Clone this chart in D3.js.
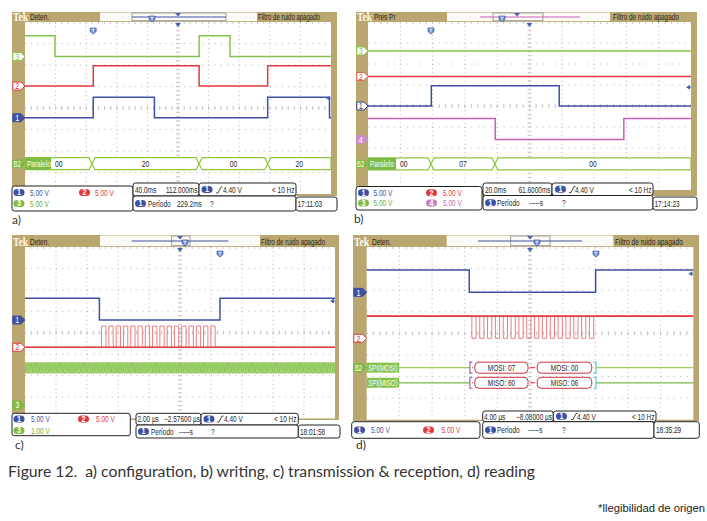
<!DOCTYPE html>
<html><head><meta charset="utf-8">
<script src="https://cdn.jsdelivr.net/npm/d3@7/dist/d3.min.js"></script>
<style>html,body{margin:0;padding:0;background:#fff;overflow:hidden}svg{display:block}</style>
</head><body><script>
// ===== DATA (graticule divisions: x 0..10 left->right, y -4..+4 bottom->top) =====
// a) configuration
const aCh3Edges = [0.98, 5.69, 6.70], aCh3Levels = [3.36, 2.39, 3.36, 2.39];
const aCh2Edges = [2.23, 5.69, 7.93], aCh2Levels = [1.02, 1.97, 1.02, 1.97];
const aCh1Edges = [2.23, 4.23, 7.93, 9.95], aCh1Levels = [-0.45, 0.50, -0.45, 0.50, -0.45];
const aBusEdges = [2.19, 5.69, 7.93], aBusValues = ["00", "20", "00", "20"];
const aBusLevel = -2.59;
const aGround = [-0.45, 1.02, 2.39];          // ch1, ch2, ch3 markers
// b) writing
const bCh3Levels = [2.62];
const bCh2Levels = [1.41];
const bCh1Edges = [1.96, 5.92], bCh1Levels = [0, 0.97, 0];
const bCh4Edges = [3.94, 7.92], bCh4Levels = [-0.59, -1.60, -0.59];
const bBusEdges = [1.95, 3.93], bBusValues = ["00", "07", "00"];
const bBusLevel = -2.76;
const bGround = [0, 1.41, 2.62, -1.60];       // ch1, ch2, ch3, ch4
// c) transmission & reception
const cCh1Edges = [2.40, 6.29], cCh1Levels = [1.61, 0.59, 1.61];
const cCh2Levels = [-0.68, 0.31];             // idle, pulse top
const cCh2Pulses = [2.47, 2.705, 2.94, 3.175, 3.41, 3.645, 3.88, 4.115, 4.35, 4.585, 4.82, 5.055, 5.29, 5.525, 5.76, 5.995];
const cPulseWidth = 0.14;
const cCh3Band = [-1.38, -1.90];
const cGround = [0.59, -0.68, -3.38];
// d) reading
const dCh1Edges = [3.14, 7.01], dCh1Levels = [2.93, 1.90, 2.93];
const dCh2Levels = [0.80, -0.23];             // idle, pulse bottom
const dCh2Dips = [3.22, 3.46, 3.70, 3.94, 4.18, 4.42, 4.66, 4.90, 5.14, 5.38, 5.62, 5.86, 6.10, 6.34, 6.58, 6.82];
const dDipWidth = 0.13;
const dSpiLevels = [-1.59, -2.29];            // MOSI, MISO
const dMosiValues = ["07", "00"], dMisoValues = ["80", "06"];
const dPackets = [[3.31, 4.94], [5.22, 6.89]];
const dFrame = [3.16, 7.02];
const dGround = [1.90, -0.23];
// triggers
const trigPos = [2.23, 1.95, 6.29, 7.02];
const trigLevel = [0.45, 0.89, 1.48, 2.76];

// ===== STYLE =====
const BLUE = "#3e50a2", RED = "#e23b3f", GREEN = "#8dc63f", MAGENTA = "#c461b7", OLIVE = "#baa770", GRID = "#a9a9a9", INK = "#1f1f1f";

const svg = d3.select("body").append("svg").attr("width", 707).attr("height", 521);
const defs = svg.append("defs");
const pat = defs.append("pattern").attr("id", "noise").attr("width", 2.4).attr("height", 12).attr("patternUnits", "userSpaceOnUse");
pat.append("rect").attr("width", 2.4).attr("height", 12).attr("fill", "#acd87a");
pat.append("path").attr("d", "M0,0L1.2,12L2.4,0").attr("stroke", "#7bb846").attr("stroke-width", 0.6).attr("fill", "none");

function stext(g, x, y, str, o = {}) {
  return g.append("text").attr("transform", `translate(${x},${y}) scale(${o.sx ?? 0.72},1)`)
    .attr("font-family", o.ff || "'Liberation Sans',Arial,sans-serif").attr("font-size", o.size || 9)
    .attr("font-weight", o.fw || "normal").attr("fill", o.color || INK).attr("text-anchor", o.anchor || "start")
    .style("white-space", "pre").text(str);
}
function fitText(g, x, y, str, w, o = {}) {
  const t = stext(g, x, y, str, Object.assign({}, o, { sx: 1 }));
  const len = t.node().getComputedTextLength();
  t.attr("transform", `translate(${x},${y}) scale(${w / len},1)`);
  return t;
}
function tPin(g, cx, y0) {
  g.append("path").attr("d", `M${cx - 3},${y0}H${cx + 3}V${y0 + 3.5}L${cx},${y0 + 6}L${cx - 3},${y0 + 3.5}Z`)
    .attr("fill", "#6a8fd4").attr("stroke", "#2d4b8f").attr("stroke-width", 0.6);
  g.append("path").attr("d", `M${cx - 1.6},${y0 + 1.2}H${cx + 1.6}M${cx},${y0 + 1.2}V${y0 + 4.6}`).attr("stroke", "#fff").attr("stroke-width", 0.8);
}

function panel(L) {
  const g = svg.append("g");
  const [fx0, fy0, fx1, fy1] = L.frame, [px0, py0, px1, py1] = L.plot;
  g.append("rect").attr("x", fx0).attr("y", fy0).attr("width", fx1 - fx0).attr("height", fy1 - fy0).attr("fill", OLIVE);
  g.append("rect").attr("x", px0).attr("y", py0).attr("width", px1 - px0).attr("height", py1 - py0).attr("fill", "#fff");
  const x = d3.scaleLinear().domain([0, 10]).range([px0, px1]);
  const y = d3.scaleLinear().domain([-4, 4]).range([py1, py0]);
  const dx = (px1 - px0) / 10, dy = (py1 - py0) / 8;
  const grid = g.append("g").attr("stroke", GRID).attr("stroke-width", 0.9);
  d3.range(1, 10).forEach(i => grid.append("line").attr("x1", x(i)).attr("x2", x(i)).attr("y1", py0).attr("y2", py1).attr("stroke-dasharray", `0.9 ${dy / 5 - 0.9}`));
  d3.range(-3, 4).forEach(j => grid.append("line").attr("y1", y(j)).attr("y2", y(j)).attr("x1", px0).attr("x2", px1).attr("stroke-dasharray", `0.9 ${dx / 5 - 0.9}`));
  const ticks = g.append("g").attr("stroke", "#bdbdbd").attr("stroke-width", 0.8);
  d3.range(0, 51).forEach(k => {
    const xx = px0 + k * dx / 5;
    ticks.append("line").attr("x1", xx).attr("x2", xx).attr("y1", y(0) - 2).attr("y2", y(0) + 2);
    ticks.append("line").attr("x1", xx).attr("x2", xx).attr("y1", py0).attr("y2", py0 + 2);
  });
  d3.range(0, 41).forEach(k => {
    const yy = py0 + k * dy / 5;
    ticks.append("line").attr("y1", yy).attr("y2", yy).attr("x1", x(5) - 2).attr("x2", x(5) + 2);
  });
  // header
  const H = L.hdr, [hy0, hy1] = H.y, hm = (hy0 + hy1) / 2;
  g.append("rect").attr("x", H.white[0]).attr("y", hy0 + 0.5).attr("width", H.white[1] - H.white[0]).attr("height", hy1 - hy0 - 1.3).attr("fill", "#fbfaf4");
  g.append("rect").attr("x", H.bracket[0]).attr("y", hy0 + 1).attr("width", H.bracket[1] - H.bracket[0]).attr("height", hy1 - hy0 - 2.3)
    .attr("fill", "none").attr("stroke", "#8a8a8a").attr("stroke-width", 0.8);
  g.append("line").attr("x1", H.line[0]).attr("x2", H.line[1]).attr("y1", hm).attr("y2", hm).attr("stroke", H.lc).attr("stroke-width", 1.1);
  g.append("path").attr("d", `M${H.tri - 3},${hy0 + 1}H${H.tri + 3}L${H.tri},${hy0 + 4.5}Z`).attr("fill", "#4a63b0");
  tPin(g, H.tmark, hm - 1);
  stext(g, H.tek, hy1 - 1.3, "Tek", { ff: "'Liberation Serif',serif", fw: "bold", size: 12, sx: 0.8, color: "#fffaf0" });
  stext(g, H.modeX, hy1 - 2, H.mode, { size: 9, sx: 0.72 });
  fitText(g, H.filtro[0], hy1 - 2, "Filtro de ruido apagado", H.filtro[1] - H.filtro[0], { size: 9 });
  // horizontal position arrow
  g.append("path").attr("d", `M${x(5) - 3},${py0 + 1}H${x(5) + 3}L${x(5)},${py0 + 5}Z`).attr("fill", "#4a63b0");
  return { g, x, y, L };
}

const line = P => d3.line().x(d => P.x(d[0])).y(d => P.y(d[1])).curve(d3.curveStepAfter);
function stepTrace(P, edges, levels, color, w = 1.5) {
  const pts = levels.map((l, i) => [i ? edges[i - 1] : 0, l]);
  pts.push([10, levels[levels.length - 1]]);
  P.g.append("path").attr("d", line(P)(pts)).attr("fill", "none").attr("stroke", color).attr("stroke-width", w);
}
function pulseTrace(P, levels, starts, width, color) {
  const [base, peak] = levels;
  const pts = [[0, base]];
  starts.forEach(s => { pts.push([s, peak]); pts.push([s + width, base]); });
  pts.push([10, base]);
  P.g.append("path").attr("d", line(P)(pts)).attr("fill", "none").attr("stroke", "#ea6f73").attr("stroke-width", 0.9);
  stepTrace(P, [], [base], color, 1.6);
}
function chMarker(P, level, color, label, filled) {
  const x0 = P.L.frame[0] + 0.8, x1 = P.L.plot[0], yc = P.y(level), h = 4;
  P.g.append("path").attr("d", `M${x0},${yc - h}H${x1 - 4}L${x1},${yc}L${x1 - 4},${yc + h}H${x0}Z`)
    .attr("fill", filled ? color : "#fff").attr("stroke", color).attr("stroke-width", 1);
  stext(P.g, (x0 + x1 - 4) / 2 + 0.3, yc + 3.2, label, { color: filled ? "#fff" : color, anchor: "middle", size: 9, sx: label.length > 1 ? 0.65 : 0.8 });
}
function trigArrow(P, level) {
  const xr = P.L.plot[2], yc = P.y(level);
  P.g.append("path").attr("d", `M${xr - 5},${yc}L${xr - 1},${yc - 2.5}V${yc + 2.5}Z`).attr("fill", "#4a63b0");
  P.g.append("line").attr("x1", xr - 3).attr("x2", xr).attr("y1", yc).attr("y2", yc).attr("stroke", "#4a63b0").attr("stroke-width", 1);
}
function bus(P, level, edges, values, labelW) {
  const yc = P.y(level), h = 6, k = 3;
  const b = [0, ...edges, 10];
  values.forEach((v, i) => {
    const a = P.x(b[i]), e = P.x(b[i + 1]);
    const ka = i === 0 ? 0 : k, kb = i === values.length - 1 ? 0 : k;
    P.g.append("path").attr("d", `M${a},${yc}L${a + ka},${yc - h}H${e - kb}L${e},${yc}L${e - kb},${yc + h}H${a + ka}Z`)
      .attr("fill", "#fff").attr("stroke", GREEN).attr("stroke-width", 1.2);
  });
  const x0 = P.x(0);
  P.g.append("rect").attr("x", x0).attr("y", yc - h).attr("width", labelW).attr("height", 2 * h).attr("fill", "#7dbb45");
  stext(P.g, x0 + 2, yc + 3.3, "Paralelo", { color: "#fff", size: 9, sx: 0.72 });
  values.forEach((v, i) => {
    if (i === 0) stext(P.g, x0 + labelW + 4, yc + 3.3, v, { size: 9, sx: 0.75 });
    else stext(P.g, (P.x(b[i]) + P.x(b[i + 1])) / 2, yc + 3.3, v, { size: 9, sx: 0.75, anchor: "middle" });
  });
}
function spi(P, level, label, prefix, values, lineColor) {
  const yc = P.y(level), lw = 32.3, xa = P.x(dFrame[0]), xb = P.x(dFrame[1]);
  P.g.append("line").attr("x1", P.x(0)).attr("x2", xa).attr("y1", yc).attr("y2", yc).attr("stroke", lineColor).attr("stroke-width", 1.2);
  P.g.append("line").attr("x1", xb).attr("x2", P.x(10)).attr("y1", yc).attr("y2", yc).attr("stroke", lineColor).attr("stroke-width", 1.2);
  P.g.append("rect").attr("x", P.x(0)).attr("y", yc - 5).attr("width", lw).attr("height", 10).attr("fill", "#86c24a");
  fitText(P.g, P.x(0) + 1.5, yc + 3.2, label, lw - 3, { color: "#fff", size: 9 });
  P.g.append("path").attr("d", `M${xa + 2.5},${yc - 5.5}H${xa}V${yc + 5.5}H${xa + 2.5}`).attr("fill", "none").attr("stroke", "#8e58a8").attr("stroke-width", 1.1);
  P.g.append("path").attr("d", `M${xb - 2.5},${yc - 5.5}H${xb}V${yc + 5.5}H${xb - 2.5}`).attr("fill", "none").attr("stroke", "#55c3de").attr("stroke-width", 1.1);
  const stops = [dFrame[0], ...dPackets.flat(), dFrame[1]];
  for (let i = 0; i < stops.length; i += 2)
    P.g.append("line").attr("x1", P.x(stops[i]) + 2).attr("x2", P.x(stops[i + 1]) - 2).attr("y1", yc).attr("y2", yc).attr("stroke", "#c9343c").attr("stroke-width", 1);
  dPackets.forEach((p, i) => {
    P.g.append("rect").attr("x", P.x(p[0])).attr("y", yc - 5.5).attr("width", P.x(p[1]) - P.x(p[0])).attr("height", 11).attr("rx", 4)
      .attr("fill", "#fff").attr("stroke", "#c9343c").attr("stroke-width", 1);
    stext(P.g, (P.x(p[0]) + P.x(p[1])) / 2, yc + 3.2, `${prefix}: ${values[i]}`, { size: 9, sx: 0.72, anchor: "middle" });
  });
}
function trigIcon(g, x, y) {
  g.append("path").attr("d", `M${x},${y}H${x + 2}L${x + 5},${y - 6}H${x + 6.5}`).attr("fill", "none").attr("stroke", INK).attr("stroke-width", 0.8);
}
function badge(g, x, yc, color, label) {
  g.append("rect").attr("x", x).attr("y", yc - 3.5).attr("width", 11).attr("height", 7).attr("rx", 3.5).attr("fill", color);
  stext(g, x + 5.5, yc + 2.9, label, { color: "#fff", size: 8.5, sx: 0.85, anchor: "middle", fw: "bold" });
}
function boxes(P, list) {
  list.forEach(b => {
    P.g.append("rect").attr("x", b.r[0]).attr("y", b.r[1]).attr("width", b.r[2] - b.r[0]).attr("height", b.r[3] - b.r[1]).attr("rx", 2.5)
      .attr("fill", "#fff").attr("stroke", "#222").attr("stroke-width", 1);
    b.items.forEach(it => {
      if (it.b) badge(P.g, it.x, it.y, it.c, it.b);
      else if (it.icon) trigIcon(P.g, it.x, it.y);
      else stext(P.g, it.x, it.y, it.t, { color: it.c || INK, anchor: it.a || "start", sx: 0.72 });
    });
  });
}

// ===== PANEL a =====
const PA = panel({ frame: [12, 12, 337, 196], plot: [25, 22, 331, 194],
  hdr: { y: [12, 22], white: [100, 257], line: [132, 226], bracket: [132, 226], tri: 178, tmark: 152, lc: BLUE, tek: 13, mode: "Deten.", modeX: 30, filtro: [258, 320] } });
stepTrace(PA, aCh3Edges, aCh3Levels, "#86c34b");
stepTrace(PA, aCh2Edges, aCh2Levels, RED);
stepTrace(PA, aCh1Edges, aCh1Levels, BLUE);
bus(PA, aBusLevel, aBusEdges, aBusValues, 26);
tPin(PA.g, PA.x(trigPos[0]), 28);
trigArrow(PA, trigLevel[0]);
chMarker(PA, aGround[2], GREEN, "3", false);
chMarker(PA, aGround[1], RED, "2", false);
chMarker(PA, aGround[0], BLUE, "1", true);
chMarker(PA, aBusLevel, "#7dbb45", "B2", true);
boxes(PA, [
  { r: [12, 186, 133, 211], items: [{ b: "1", c: BLUE, x: 13.5, y: 192.5 }, { t: "5.00 V", c: BLUE, x: 30, y: 195.5 }, { b: "2", c: RED, x: 79, y: 192.5 }, { t: "5.00 V", c: RED, x: 95, y: 195.5 },
    { b: "3", c: "#7dbb45", x: 13.5, y: 203.5 }, { t: "5.00 V", c: "#6aad3a", x: 30, y: 206.5 }] },
  { r: [133, 183, 199, 196], items: [{ t: "40.0ms", x: 135, y: 193 }, { t: "112.000ms", x: 197.5, y: 193, a: "end" }] },
  { r: [199, 183, 296, 196], items: [{ b: "1", c: BLUE, x: 201.5, y: 189.5 }, { icon: 1, x: 216, y: 193 }, { t: "4.40 V", x: 223, y: 193 }, { t: "< 10 Hz", x: 294.5, y: 193, a: "end" }] },
  { r: [133, 196, 296, 211], items: [{ b: "1", c: BLUE, x: 135, y: 203.5 }, { t: "Período", x: 148, y: 207 }, { t: "229.2ms", x: 177, y: 207 }, { t: "?", x: 210, y: 207 }] },
  { r: [296, 197, 337, 211], items: [{ t: "17:11:03", x: 297.5, y: 207 }] }]);

// ===== PANEL b =====
const PB = panel({ frame: [356, 12, 697, 196], plot: [368, 22, 691, 190],
  hdr: { y: [12, 22], white: [447, 610], line: [480, 580], bracket: [493, 543], tri: 517, tmark: 502, lc: MAGENTA, tek: 357, mode: "Pres Pr", modeX: 374, filtro: [613, 679] } });
stepTrace(PB, [], bCh3Levels, "#86c34b");
stepTrace(PB, [], bCh2Levels, RED);
stepTrace(PB, bCh1Edges, bCh1Levels, BLUE);
stepTrace(PB, bCh4Edges, bCh4Levels, MAGENTA);
bus(PB, bBusLevel, bBusEdges, bBusValues, 28);
tPin(PB.g, PB.x(trigPos[1]), 28);
trigArrow(PB, trigLevel[1]);
chMarker(PB, bGround[2], GREEN, "3", false);
chMarker(PB, bGround[1], "#e4573a", "2", false);
chMarker(PB, bGround[0], "#34407a", "1", false);
chMarker(PB, bGround[3], "#d08ccc", "4", true);
chMarker(PB, bBusLevel, "#7dbb45", "B2", true);
boxes(PB, [
  { r: [356, 186.5, 482, 210], items: [{ b: "1", c: BLUE, x: 358, y: 192.7 }, { t: "5.00 V", c: BLUE, x: 373.5, y: 195.7 }, { b: "2", c: RED, x: 426, y: 192.7 }, { t: "5.00 V", c: RED, x: 443, y: 195.7 },
    { b: "3", c: "#7dbb45", x: 358, y: 203 }, { t: "5.00 V", c: "#6aad3a", x: 373.5, y: 206 }, { b: "4", c: "#c77fc2", x: 426, y: 203 }, { t: "5.00 V", c: "#b96db4", x: 443, y: 206 }] },
  { r: [483, 183, 552, 195.5], items: [{ t: "20.0ms", x: 485, y: 192.5 }, { t: "61.6000ms", x: 550.5, y: 192.5, a: "end" }] },
  { r: [552, 183, 653, 195.5], items: [{ b: "1", c: BLUE, x: 555, y: 189.3 }, { icon: 1, x: 569, y: 192.5 }, { t: "4.40 V", x: 575, y: 192.5 }, { t: "< 10 Hz", x: 651.5, y: 192.5, a: "end" }] },
  { r: [483, 195.5, 653, 210], items: [{ b: "1", c: BLUE, x: 485, y: 202.7 }, { t: "Período", x: 497, y: 206 }, { t: "-----s", x: 529, y: 206 }, { t: "?", x: 562, y: 206 }] },
  { r: [653, 197, 697, 210], items: [{ t: "17:14:23", x: 654.5, y: 206.5 }] }]);

// ===== PANEL c =====
const PC = panel({ frame: [12, 235, 339, 420], plot: [25, 247, 335, 418.4],
  hdr: { y: [235, 247], white: [100, 260], line: [131.7, 228.3], bracket: [171.7, 190], tri: 180, tmark: 185, lc: BLUE, tek: 13, mode: "Deten.", modeX: 30, filtro: [261, 325] } });
PC.g.append("path").attr("d", d3.area().x(d => PC.x(d)).y0(PC.y(cCh3Band[1])).y1(PC.y(cCh3Band[0]))([0, 10])).attr("fill", "url(#noise)");
stepTrace(PC, cCh1Edges, cCh1Levels, BLUE);
pulseTrace(PC, cCh2Levels, cCh2Pulses, cPulseWidth, RED);
tPin(PC.g, PC.x(trigPos[2]), 251);
trigArrow(PC, trigLevel[2]);
chMarker(PC, cGround[0], BLUE, "1", true);
chMarker(PC, cGround[1], RED, "2", false);
chMarker(PC, cGround[2], "#7dbb45", "3", true);
boxes(PC, [
  { r: [12, 413.3, 130.3, 435.7], items: [{ b: "1", c: BLUE, x: 13.5, y: 419 }, { t: "5.00 V", c: BLUE, x: 31, y: 422 }, { b: "2", c: RED, x: 78, y: 419 }, { t: "5.00 V", c: RED, x: 96, y: 422 },
    { b: "3", c: "#7dbb45", x: 13.5, y: 430.5 }, { t: "1.00 V", c: "#6aad3a", x: 31, y: 433.5 }] },
  { r: [136, 413.3, 201, 425], items: [{ t: "2.00 µs", x: 137.5, y: 422 }, { t: "−2.57600 µs", x: 200, y: 422, a: "end" }] },
  { r: [201, 413.3, 298.3, 425], items: [{ b: "1", c: BLUE, x: 203.5, y: 419 }, { icon: 1, x: 217, y: 422 }, { t: "4.40 V", x: 224, y: 422 }, { t: "< 10 Hz", x: 296.5, y: 422, a: "end" }] },
  { r: [136, 425, 298.3, 438], items: [{ b: "1", c: BLUE, x: 138, y: 431.5 }, { t: "Período", x: 151, y: 434.5 }, { t: "-----s", x: 179, y: 434.5 }, { t: "?", x: 211, y: 434.5 }] },
  { r: [298.3, 425, 340, 438], items: [{ t: "18:01:58", x: 300, y: 434.5 }] }]);

// ===== PANEL d =====
const PD = panel({ frame: [353, 235, 699, 421], plot: [366.7, 247, 693.3, 419.7],
  hdr: { y: [235, 247], white: [446.7, 613.3], line: [478, 582], bracket: [510.7, 550], tri: 530, tmark: 537, lc: BLUE, tek: 354, mode: "Deten.", modeX: 372, filtro: [615, 683] } });
stepTrace(PD, dCh1Edges, dCh1Levels, BLUE);
pulseTrace(PD, dCh2Levels, dCh2Dips, dDipWidth, RED);
spi(PD, dSpiLevels[0], "SPI(MOSI)", "MOSI", dMosiValues, "#9bd05a");
spi(PD, dSpiLevels[1], "SPI(MISO)", "MISO", dMisoValues, "#7cb94a");
tPin(PD.g, PD.x(trigPos[3]), 251);
trigArrow(PD, trigLevel[3]);
chMarker(PD, dGround[0], BLUE, "1", true);
chMarker(PD, dGround[1], RED, "2", false);
chMarker(PD, dSpiLevels[0], "#7dbb45", "B2", true);
boxes(PD, [
  { r: [482.7, 411, 553.3, 421.7], items: [{ t: "4.00 µs", x: 484, y: 419.5 }, { t: "−8.08000 µs", x: 552, y: 419.5, a: "end" }] },
  { r: [553.3, 411, 656, 421.7], items: [{ b: "1", c: BLUE, x: 556, y: 416.3 }, { icon: 1, x: 571, y: 419.5 }, { t: "4.40 V", x: 577, y: 419.5 }, { t: "< 10 Hz", x: 654.5, y: 419.5, a: "end" }] },
  { r: [351.7, 421.7, 480, 438.3], items: [{ b: "1", c: BLUE, x: 354, y: 430 }, { t: "5.00 V", c: BLUE, x: 371, y: 433 }, { b: "2", c: RED, x: 423, y: 430 }, { t: "5.00 V", c: RED, x: 441.5, y: 433 }] },
  { r: [482.7, 421.7, 654, 438.3], items: [{ b: "1", c: BLUE, x: 485, y: 430 }, { t: "Período", x: 497, y: 433 }, { t: "-----s", x: 528.5, y: 433 }, { t: "?", x: 562, y: 433 }] },
  { r: [654, 421.7, 699.3, 438.3], items: [{ t: "18:35:29", x: 656, y: 433 }] }]);

// ===== LABELS & CAPTION =====
const lab = { ff: "Lato,'Open Sans',sans-serif", size: 12, sx: 1, color: "#333" };
stext(svg, 12, 224, "a)", lab);
stext(svg, 354, 223, "b)", lab);
stext(svg, 15, 449, "c)", lab);
stext(svg, 356, 449, "d)", lab);
svg.append("text").attr("x", 8).attr("y", 476.5).attr("font-family", "Lato,'Open Sans',sans-serif").attr("font-size", 15.5).attr("fill", "#333")
  .attr("textLength", 527).attr("lengthAdjust", "spacingAndGlyphs").style("white-space", "pre")
  .text("Figure 12.  a) configuration, b) writing, c) transmission & reception, d) reading");
svg.append("text").attr("x", 598).attr("y", 512).attr("font-family", "'Liberation Sans',Arial,sans-serif").attr("font-size", 10).attr("fill", "#222")
  .attr("textLength", 107).attr("lengthAdjust", "spacingAndGlyphs").text("*llegibilidad de origen");
</script></body></html>
